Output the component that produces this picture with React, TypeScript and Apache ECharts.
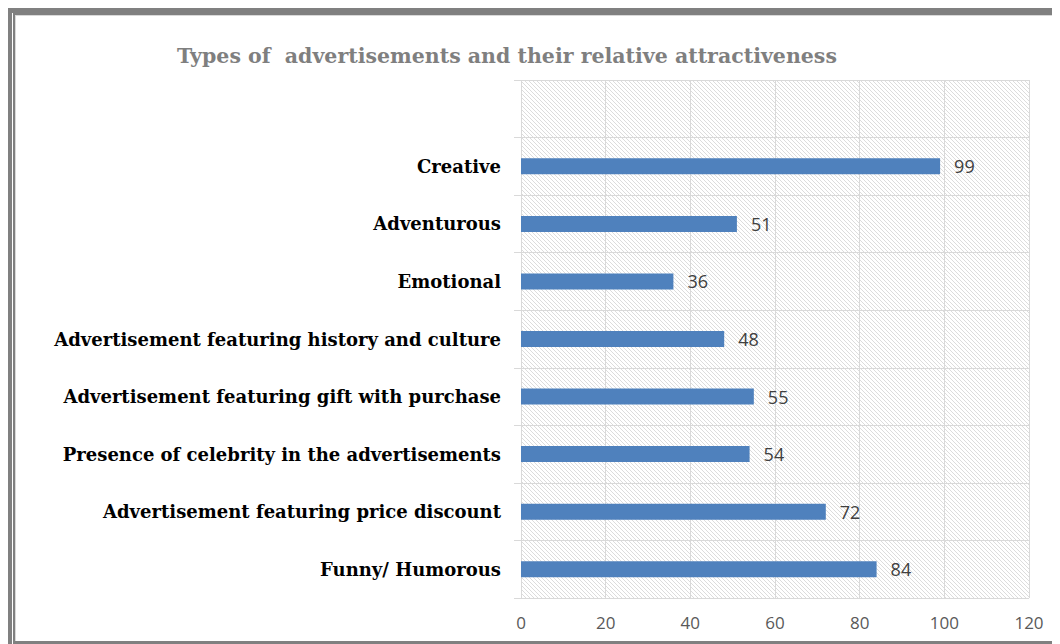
import React, { useEffect, useRef } from "react";
import * as echarts from "echarts";

const titleText = "Types of  advertisements and their relative attractiveness";
const categories = [
  "",
  "Creative",
  "Adventurous",
  "Emotional",
  "Advertisement featuring history and culture",
  "Advertisement featuring gift with purchase",
  "Presence of celebrity in the advertisements",
  "Advertisement featuring price discount",
  "Funny/ Humorous",
];
const values: (number | null)[] = [null, 99, 51, 36, 48, 55, 54, 72, 84];
const xMin = 0;
const xMax = 120;
const xInterval = 20;

function makeHatch(): string {
  const c = document.createElement("canvas");
  c.width = 8;
  c.height = 8;
  const ctx = c.getContext("2d")!;
  ctx.fillStyle = "#ffffff";
  ctx.fillRect(0, 0, 8, 8);
  ctx.strokeStyle = "#dcdcdc";
  ctx.lineWidth = 1;
  ctx.beginPath();
  for (let k = -8; k <= 8; k += 4) {
    ctx.moveTo(k, 0);
    ctx.lineTo(k + 8, 8);
  }
  ctx.stroke();
  return c.toDataURL();
}

export default function App() {
  const ref = useRef<HTMLDivElement>(null);
  useEffect(() => {
    if (!ref.current) return;
    const chart = echarts.init(ref.current, undefined, { renderer: "svg" });
    const hatch = makeHatch();
    chart.setOption({
      animation: false,
      title: {
        text: titleText,
        left: 494,
        top: 32,
        textAlign: "center",
        textStyle: {
          fontFamily: "DejaVu Serif",
          fontWeight: "bold",
          fontSize: 20.5,
          color: "#7f7f7f",
        },
      },
      grid: {
        left: 513,
        top: 72,
        width: 508,
        height: 518,
        show: true,
        borderWidth: 0,
        backgroundColor: { image: hatch, repeat: "repeat" } as any,
      },
      xAxis: {
        type: "value",
        min: xMin,
        max: xMax,
        interval: xInterval,
        axisLine: { show: false },
        axisTick: { show: false },
        axisLabel: {
          margin: 16,
          fontFamily: "Open Sans",
          fontSize: 17,
          color: "#595959",
        },
        splitLine: { show: true, lineStyle: { color: "#d9d9d9", width: 1 } },
      },
      yAxis: {
        type: "category",
        data: categories,
        inverse: true,
        axisLine: { show: false },
        axisTick: { show: true, length: 7, lineStyle: { color: "#d9d9d9" } },
        axisLabel: {
          margin: 20,
          fontFamily: "DejaVu Serif",
          fontWeight: "bold",
          fontSize: 18,
          color: "#000000",
        },
        splitLine: { show: true, lineStyle: { color: "#d9d9d9", width: 1 } },
      },
      series: [
        {
          type: "bar",
          data: values,
          barWidth: 16,
          itemStyle: { color: "#4f81bd" },
          label: {
            show: true,
            position: "right",
            distance: 14,
            fontFamily: "Open Sans",
            fontSize: 18,
            color: "#404040",
          },
        },
      ],
    });
    return () => chart.dispose();
  }, []);

  return (
    <div
      style={{
        position: "relative",
        width: 1052,
        height: 640,
        background: "#808080",
        overflow: "hidden",
      }}
    >
      <div
        style={{
          position: "absolute",
          left: 4,
          top: 5,
          width: 1,
          height: 640,
          background: "#ffffff",
        }}
      />
      <div
        style={{
          position: "absolute",
          left: 7,
          top: 7,
          width: 1043,
          height: 626,
          background: "#ffffff",
          borderTop: "1px solid #d9d9d9",
          borderLeft: "1px solid #d9d9d9",
          borderRight: "1px solid #d9d9d9",
          boxSizing: "border-box",
        }}
      />
      <div
        ref={ref}
        style={{ position: "absolute", left: 0, top: 0, width: 1052, height: 636 }}
      />
    </div>
  );
}
